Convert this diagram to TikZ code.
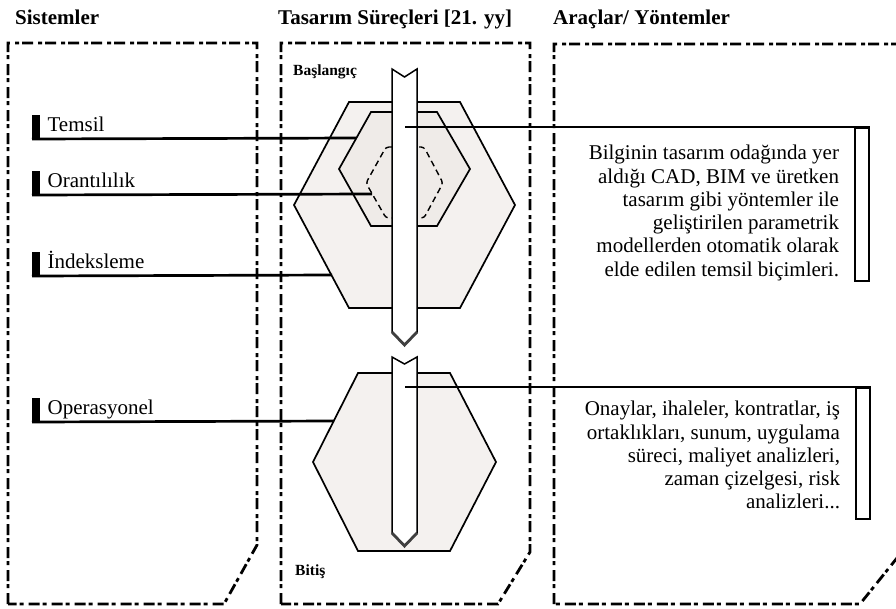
\documentclass[tikz,border=0pt]{standalone}
\usepackage{fontspec}
\setmainfont{Liberation Serif}
\usetikzlibrary{positioning,calc}
\definecolor{hexfill}{HTML}{F4F1EF}
\definecolor{hexinner}{HTML}{EFEBE8}
\tikzset{
  panel/.style={line width=2.8pt, dash pattern=on 11pt off 5pt on 4pt off 3pt},
  baslik/.style={font=\fontsize{21}{24}\selectfont\bfseries, anchor=base west, inner sep=0pt},
  etiket/.style={font=\fontsize{21}{24}\selectfont, inner sep=0pt},
  isaret/.style={fill=black, minimum width=8pt, minimum height=24pt, inner sep=0pt, anchor=south west},
  baglanti/.style={line width=2.7pt},
  aciklama/.style={font=\fontsize{21}{23.3}\selectfont, align=right, inner sep=0pt},
  hex/.style={draw, line width=1.7pt, fill=hexfill},
  okgovde/.style={draw, line width=1.5pt, fill=white},
  okucu/.style={line width=2.8pt, black!75},
  kucuk/.style={font=\fontsize{15.5}{17}\selectfont\bfseries, inner sep=0pt, anchor=west},
  kutu/.style={draw, line width=1.8pt, fill=white, minimum width=14pt, inner sep=0pt, anchor=north east}
}

\begin{document}
\begin{tikzpicture}[x=1pt, y=-1pt]
\useasboundingbox (0,0) rectangle (896,608);

% basliklar
\node[baslik] (sistemler) at (15,24) {Sistemler};
\node[baslik] (surecler) at (278,24) {Tasarım Süreçleri [21. yy]};
\node[baslik] (araclar) at (553,24) {Araçlar/ Yöntemler};

% paneller
\draw[panel] (8,604) -- (8,43) -- (257,43) -- (257,545) -- (224,604) -- cycle;
\draw[panel] (281,604) -- (281,43) -- (530,43) -- (530,552) -- (498,604) -- cycle;
\draw[panel] (554,604) -- (554,44) -- (905,44) -- (905,548) -- (860,604) -- cycle;

% altigenler
\draw[hex] (349,102) -- (460,102) -- (515,205) -- (460,308) -- (349,308) -- (294,205) -- cycle;
\draw[hex, fill=hexinner] (371,112) -- (437,112) -- (470,169) -- (437,226) -- (371,226) -- (339,169) -- cycle;
\draw[line width=1.4pt, dash pattern=on 6pt off 4pt, rounded corners=3pt]
  (386,147) -- (424,147) -- (443,183) -- (424,218) -- (386,218) -- (366,183) -- cycle;
\draw[hex] (358,373) -- (450,373) -- (496,462) -- (450,551) -- (358,551) -- (313,462) -- cycle;

\node[kucuk] (baslangic) at (293,72) {Başlangıç};
\node[kucuk] (bitis) at (295,572) {Bitiş};

% sol etiketler
\coordinate (temsilUc) at (356,138);
\coordinate (oranUc) at (372,194);
\coordinate (indeksUc) at (332,275);
\coordinate (operUc) at (334,421);

\node[isaret] (temsilIsaret) at (32,139) {};
\node[etiket, right=7pt of temsilIsaret.south east, anchor=base west, yshift=8pt] (temsil) {Temsil};
\draw[baglanti] (temsilIsaret.south west) -- (temsilUc);

\node[isaret] (oranIsaret) at (32,195) {};
\node[etiket, right=7pt of oranIsaret.south east, anchor=base west, yshift=8pt] (oran) {Orantılılık};
\draw[baglanti] (oranIsaret.south west) -- (oranUc);

\node[isaret] (indeksIsaret) at (32,276) {};
\node[etiket, right=7pt of indeksIsaret.south east, anchor=base west, yshift=8pt] (indeks) {İndeksleme};
\draw[baglanti] (indeksIsaret.south west) -- (indeksUc);

\node[isaret] (operIsaret) at (32,422) {};
\node[etiket, right=7pt of operIsaret.south east, anchor=base west, yshift=8pt] (oper) {Operasyonel};
\draw[baglanti] (operIsaret.south west) -- (operUc);

% oklar
\draw[okgovde] (392,69) -- (404.5,77) -- (417,69) -- (417,332) -- (404.5,345) -- (392,332) -- cycle;
\draw[okucu] (392,332) -- (404.5,345) -- (417,332);
\draw[okgovde] (392,357) -- (404.5,364) -- (417,357) -- (417,533) -- (404.5,546) -- (392,533) -- cycle;
\draw[okucu] (392,533) -- (404.5,546) -- (417,533);

% sag kutular
\coordinate (ustBas) at (405,127);
\node[kutu, minimum height=153pt] (ustKutu) at (870,127) {};
\draw[baglanti] (ustBas) -- (ustKutu.north east);
\node[aciklama, left=15pt of ustKutu.north west, anchor=north east, yshift=-18pt] (ustMetin)
  {Bilginin tasarım odağında yer\\aldığı CAD, BIM ve üretken\\tasarım gibi yöntemler ile\\geliştirilen parametrik\\modellerden otomatik olarak\\elde edilen temsil biçimleri.};

\coordinate (altBas) at (405,387);
\node[kutu, minimum height=131pt] (altKutu) at (871,387) {};
\draw[baglanti] (altBas) -- (altKutu.north east);
\node[aciklama, left=15pt of altKutu.north west, anchor=north east, yshift=-14pt] (altMetin)
  {Onaylar, ihaleler, kontratlar, iş\\ortaklıkları, sunum, uygulama\\süreci, maliyet analizleri,\\zaman çizelgesi, risk\\analizleri...};
\end{tikzpicture}
\end{document}
